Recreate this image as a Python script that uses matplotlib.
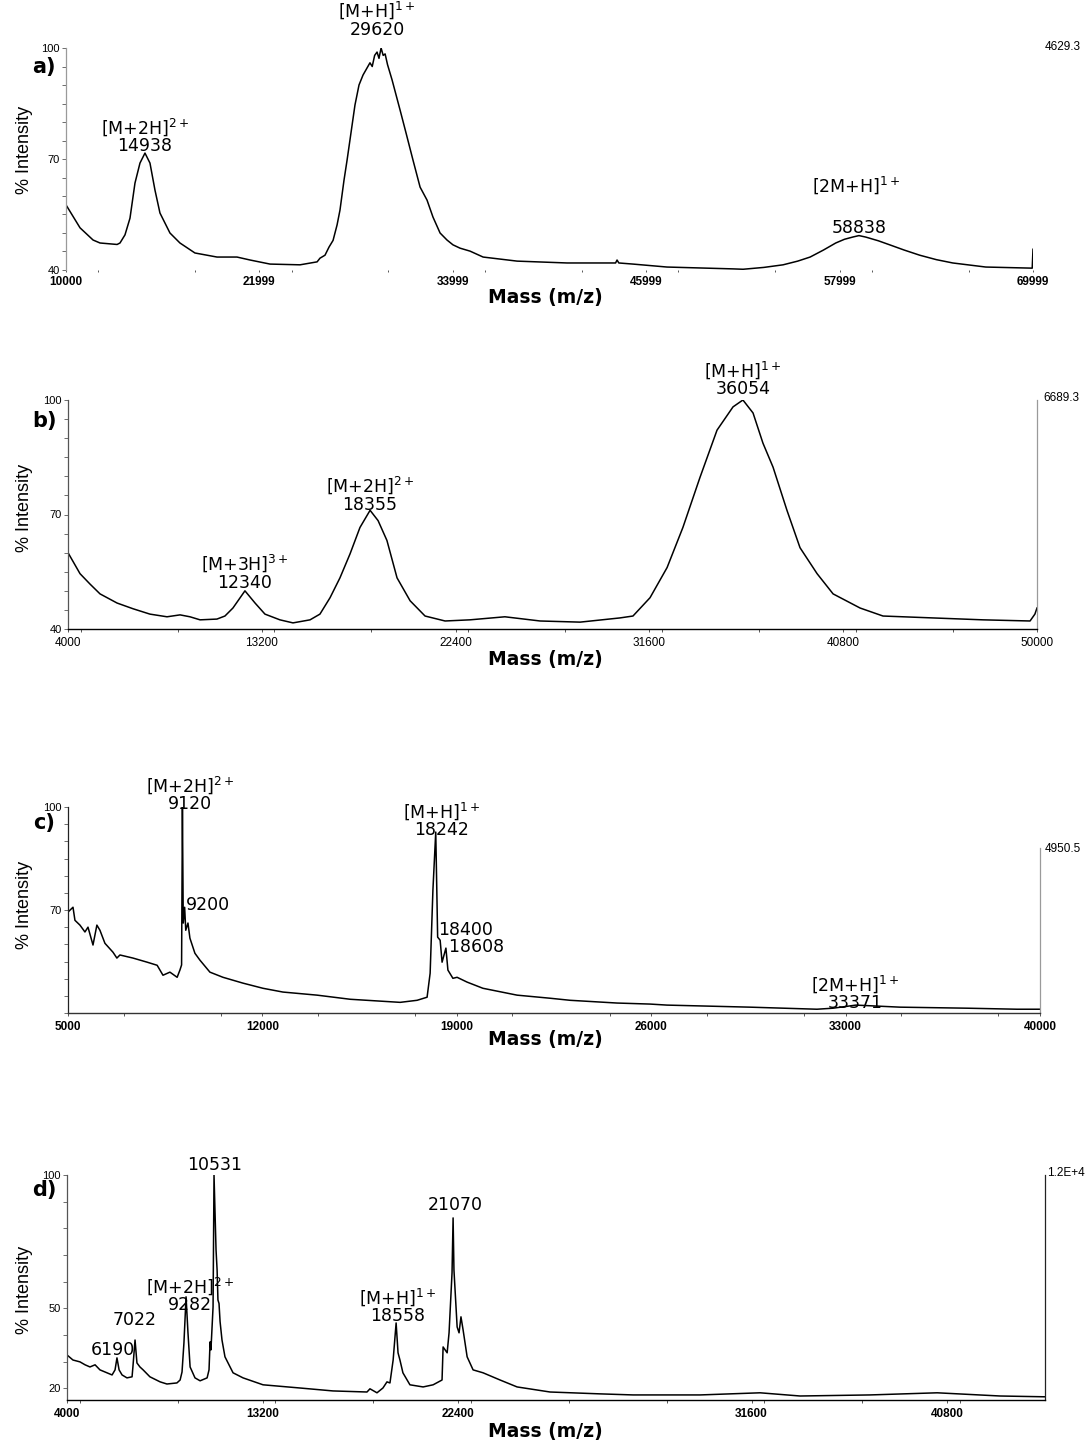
import matplotlib
matplotlib.use("Agg")
import matplotlib.pyplot as plt
from matplotlib.ticker import MultipleLocator

W, H = 1089, 1441

# ---- panel a ----
a_mz = [10000, 10870, 11680, 12110, 13170, 13350, 13660, 13970, 14280, 14590,
        14900, 15210, 15520, 15830, 16450, 17070, 18000, 19370, 20610, 21420,
        22660, 24520, 25580, 25760, 26070, 26320, 26570, 26820, 27000, 27250,
        27440, 27680, 27930, 28180, 28430, 28860,
        29000, 29150, 29300, 29420, 29550, 29680, 29800, 29950, 30230, 30730,
        31100, 31530, 31970, 32400, 32770, 33210, 33640, 34010, 34450, 35070,
        35880, 37990, 41090, 44100, 44190, 44300,
        45180, 47290, 51390, 52010, 53300, 54490, 55400, 56170, 57000, 57760,
        58300, 58810, 59200, 59620, 60400, 61110,
        62000, 62970, 64000, 65020, 67070, 69950, 69999]
a_int = [57.6, 51.4, 48.1, 47.3, 46.9, 47.3, 49.5, 54.0, 63.5, 68.9,
         71.6, 68.9, 61.6, 55.4, 50.0, 47.3, 44.6, 43.5, 43.5, 42.7,
         41.6, 41.4, 42.2, 43.2, 44.0, 46.2, 48.0, 52.2, 56.2, 64.3,
         69.7, 77.0, 84.6, 90.0, 92.7, 96.0,
         95.0, 98.0, 98.9, 97.2, 100.0, 98.0, 98.4, 95.5, 91.4, 83.2,
         77.0, 69.7, 62.4, 58.9, 54.3, 50.0, 48.1, 46.8, 45.9, 45.1,
         43.5, 42.4, 41.9, 41.9, 42.7, 41.9,
         41.6, 40.8, 40.3, 40.2, 40.7, 41.4, 42.4, 43.5, 45.4, 47.3,
         48.3, 48.9, 49.3, 48.9, 47.9, 46.8,
         45.4, 44.0, 42.8, 41.9, 40.8, 40.5, 45.6]

# ---- panel b ----
b_mz = [4000, 4570, 5040, 5520, 6330, 7090, 7890, 8700, 9320, 9790,
        10270, 11070, 11450, 11830, 12400, 12880, 13350, 14060, 14680, 15490,
        15960, 16440, 16910, 17390, 17860, 18340, 18720, 19140, 19620, 20240,
        20950, 21900, 23080, 24740, 26410, 28310, 30200, 30820, 31630, 32440,
        33190, 34000, 34810, 35570, 36040, 36520, 36990, 37470, 38130, 38750,
        39560, 40320, 41600, 42690, 45060, 47440, 49670, 49900, 50000]
b_int = [60.0, 54.5, 51.8, 49.2, 46.8, 45.3, 43.9, 43.2, 43.7, 43.2,
         42.4, 42.6, 43.4, 45.5, 50.0, 46.8, 43.9, 42.4, 41.6, 42.4,
         43.9, 48.2, 53.4, 59.7, 66.6, 71.1, 68.4, 63.2, 53.4, 47.4,
         43.4, 42.1, 42.4, 43.2, 42.1, 41.8, 42.9, 43.4, 48.2, 56.1,
         66.6, 79.7, 92.1, 98.2, 100.0, 96.6, 88.7, 82.4, 71.1, 61.3,
         54.5, 49.2, 45.5, 43.4, 42.9, 42.4, 42.1, 43.9, 45.5]

# ---- panel c ----
c_mz = [5000, 5180, 5250, 5430, 5610, 5720, 5900, 6040, 6150, 6330,
        6620, 6760, 6870, 7340, 7850, 8210, 8420, 8670, 8930, 9030,
        9090, 9120, 9150, 9200, 9240, 9320, 9390, 9570, 9750, 10110,
        10580, 11300, 12020, 12740, 13970, 15160, 16960, 17570, 17930, 18040,
        18140, 18242, 18280, 18310, 18400, 18470, 18608, 18680, 18860, 19010,
        19370, 19940, 21170, 22360, 23080, 24770, 25960, 26570, 29560, 31970,
        32550, 33371, 34960, 37370, 39170, 40000]
c_int = [69.4, 70.8, 67.0, 65.6, 63.6, 65.0, 59.8, 65.6, 64.1, 60.3,
         57.7, 56.0, 56.9, 56.0, 54.8, 53.9, 51.0, 51.9, 50.4, 52.5,
         54.0, 100.0, 66.2, 70.8, 64.1, 66.2, 61.8, 57.4, 55.4, 51.9,
         50.4, 48.7, 47.2, 46.1, 45.2, 44.0, 43.1, 43.7, 44.6, 51.6,
         75.8, 92.7, 75.8, 62.1, 61.2, 54.8, 58.9, 52.5, 50.1, 50.4,
         49.0, 47.2, 45.2, 44.3, 43.7, 42.9, 42.6, 42.3, 41.7, 41.1,
         41.4, 42.3, 41.7, 41.4, 41.1, 41.1]

# ---- panel d ----
d_mz = [4000, 4280, 4610, 4850, 5080, 5320, 5550, 5880, 6120, 6260,
        6350, 6450, 6590, 6820, 7060, 7100, 7200, 7290, 7430, 7580,
        7900, 8380, 8700, 9170, 9320, 9410, 9500, 9600, 9690, 9790,
        10020, 10260, 10590, 10680, 10730, 10770, 10870, 10915, 11010, 11060,
        11100, 11150, 11200, 11290, 11430, 11670, 11810, 12280, 13220, 14960,
        16510, 18110, 18250, 18580, 18860, 19050, 19190, 19340, 19480, 19570,
        19660, 19800, 20130, 20750, 21220, 21640, 21690, 21880, 21970, 22110,
        22160, 22200, 22350, 22440, 22530, 22630, 22820, 23100, 23570, 24370,
        25170, 26720, 29070, 30630, 32220, 33780, 36600, 38480, 41770, 44930,
        47890, 50000]
d_int = [32.5, 30.6, 29.9, 28.8, 28.0, 28.8, 26.9, 25.8, 25.0, 26.9,
         31.4, 26.9, 25.0, 23.9, 24.3, 28.0, 38.1, 29.5, 28.0, 26.9,
         24.3, 22.4, 21.6, 22.0, 23.1, 26.1, 37.0, 54.3, 40.8, 28.0,
         23.9, 22.8, 23.9, 26.9, 37.4, 34.4, 50.5, 100.0, 71.9, 64.4,
         53.1, 51.8, 45.0, 38.1, 31.8, 28.0, 25.8, 23.9, 21.3, 20.1,
         19.0, 18.6, 19.8, 18.3, 20.1, 22.4, 22.0, 30.6, 44.5, 33.3,
         30.6, 25.8, 21.3, 20.5, 21.3, 23.1, 35.5, 33.3, 40.8, 63.3,
         83.9, 64.4, 43.0, 40.8, 46.8, 41.9, 31.8, 26.9, 25.8, 23.1,
         20.5, 18.6, 17.9, 17.5, 17.5, 17.5, 18.3, 17.1, 17.5, 18.3,
         17.1, 16.8]

NARROW = ['Liberation Sans Narrow', 'Liberation Sans', 'DejaVu Sans']
WIDE = ['DejaVu Sans']

plt.rcParams['font.family'] = WIDE
plt.rcParams['mathtext.fontset'] = 'dejavusans'

fig = plt.figure(figsize=(W / 100, H / 100), dpi=100)


def make_axes(l, t, r, b):
    return fig.add_axes([l / W, 1 - b / H, (r - l) / W, (b - t) / H])


def style(ax, xlim, ylim, xmajor, xlabels, xminor, yticks, yminor,
          left_c, right_c=None, bottom_c=None, xbold=True):
    ax.set_xlim(*xlim)
    ax.set_ylim(*ylim)
    for s in ['top', 'right', 'bottom']:
        ax.spines[s].set_visible(False)
    ax.spines['left'].set_color(left_c)
    ax.spines['left'].set_linewidth(0.9)
    if right_c:
        ax.spines['right'].set_visible(True)
        ax.spines['right'].set_color(right_c)
        ax.spines['right'].set_linewidth(0.9)
    if bottom_c:
        ax.spines['bottom'].set_visible(True)
        ax.spines['bottom'].set_color(bottom_c)
        ax.spines['bottom'].set_linewidth(1.0)
    ax.set_xticks(xmajor)
    ax.set_xticklabels(xlabels, family=NARROW,
                       fontweight='bold' if xbold else 'normal', fontsize=8.5)
    ax.xaxis.set_minor_locator(MultipleLocator(xminor))
    ax.set_yticks(yticks)
    ax.set_yticklabels([str(v) for v in yticks], family=NARROW, fontsize=8)
    ax.yaxis.set_minor_locator(MultipleLocator(yminor))
    ax.tick_params(axis='x', which='both', length=2.5, width=0.7, color='#555555', pad=3)
    ax.tick_params(axis='y', which='both', length=3, width=0.6, color='#555555', pad=1.5)


def ann(ax, x, y, s, ha='center', size=12.5):
    ax.text(x, y, s, ha=ha, va='center', multialignment=ha, fontsize=size,
            family=WIDE, linespacing=0.95, clip_on=False)


# ---------------- a ----------------
ax = make_axes(66, 48, 1033, 270)
ax.plot(a_mz, a_int, color='black', lw=1.1)
style(ax, (10000, 69999), (40, 100),
      [10000, 21999, 33999, 45999, 57999, 69999],
      ['10000', '21999', '33999', '45999', '57999', '69999'],
      5999.9, [40, 70, 100], 5, '#9a9a9a')
ax.tick_params(axis='x', which='both', length=1.5)
ann(ax, 14902, 76.3, '[M+2H]$^{2+}$\n14938')
ann(ax, 29300, 107.8, '[M+H]$^{1+}$\n29620')
ann(ax, 59000, 63.0, '[2M+H]$^{1+}$')
ann(ax, 59200, 51.3, '58838')

# ---------------- b ----------------
ax = make_axes(68, 400, 1037, 629)
ax.plot(b_mz, b_int, color='black', lw=1.1)
style(ax, (4000, 50000), (40, 100),
      [4000, 13200, 22400, 31600, 40800, 50000],
      ['4000', '13200', '22400', '31600', '40800', '50000'],
      4600, [40, 70, 100], 5, '#555555', '#9a9a9a', 'black', xbold=False)
ann(ax, 12400, 54.9, '[M+3H]$^{3+}$\n12340')
ann(ax, 18340, 75.3, '[M+2H]$^{2+}$\n18355')
ann(ax, 36040, 105.5, '[M+H]$^{1+}$\n36054')

# ---------------- c ----------------
ax = make_axes(68, 807, 1040, 1013)
ax.plot(c_mz, c_int, color='black', lw=1.1)
style(ax, (5000, 40000), (40, 100),
      [5000, 12000, 19000, 26000, 33000, 40000],
      ['5000', '12000', '19000', '26000', '33000', '40000'],
      3500, [70, 100], 5, '#222222', '#9a9a9a', '#333333')
ax.spines['right'].set_bounds(40, 88)
ann(ax, 9400, 103.9, '[M+2H]$^{2+}$\n9120')
ann(ax, 9250, 71.4, '9200', ha='left')
ann(ax, 18450, 96.4, '[M+H]$^{1+}$\n18242')
ann(ax, 18340, 61.8, '18400\n  18608', ha='left')
ann(ax, 33350, 45.9, '[2M+H]$^{1+}$\n33371')

# ---------------- d ----------------
ax = make_axes(67, 1175, 1045, 1400)
ax.plot(d_mz, d_int, color='black', lw=1.1)
style(ax, (4000, 50000), (15.6, 100),
      [4000, 13200, 22400, 36200, 45400],
      ['4000', '13200', '22400', '31600', '40800'],
      4600, [20, 50, 100], 10, '#555555', '#222222', 'black')
ann(ax, 10960, 103.7, '10531')
ann(ax, 22250, 88.8, '21070')
ann(ax, 19570, 50.9, '[M+H]$^{1+}$\n18558')
ann(ax, 9790, 55.2, '[M+2H]$^{2+}$\n9282')
ann(ax, 7200, 45.6, '7022')
ann(ax, 6160, 34.4, '6190')

# ---------------- figure-level labels ----------------
for y, lab in [(67, 'a)'), (421, 'b)'), (823, 'c)'), (1190, 'd)')]:
    fig.text(44 / W, 1 - y / H, lab, ha='center', va='center',
             fontsize=15, fontweight='bold', family=WIDE)

for y in [150, 508, 905, 1290]:
    fig.text(25 / W, 1 - y / H, '% Intensity', ha='center', va='center',
             rotation=90, fontsize=13, family=NARROW)

for y in [297, 659, 1040, 1432]:
    fig.text(545 / W, 1 - y / H, 'Mass (m/z)', ha='center', va='center',
             fontsize=13.5, fontweight='bold', family=WIDE)

for x, y, lab in [(1045, 47, '4629.3'), (1043, 398, '6689.3'),
                  (1045, 849, '4950.5'), (1047, 1173, '1.2E+4')]:
    fig.text(x / W, 1 - y / H, lab, ha='left', va='center',
             fontsize=8.5, family=NARROW)

fig.savefig('out.png', dpi=100, facecolor='white')
